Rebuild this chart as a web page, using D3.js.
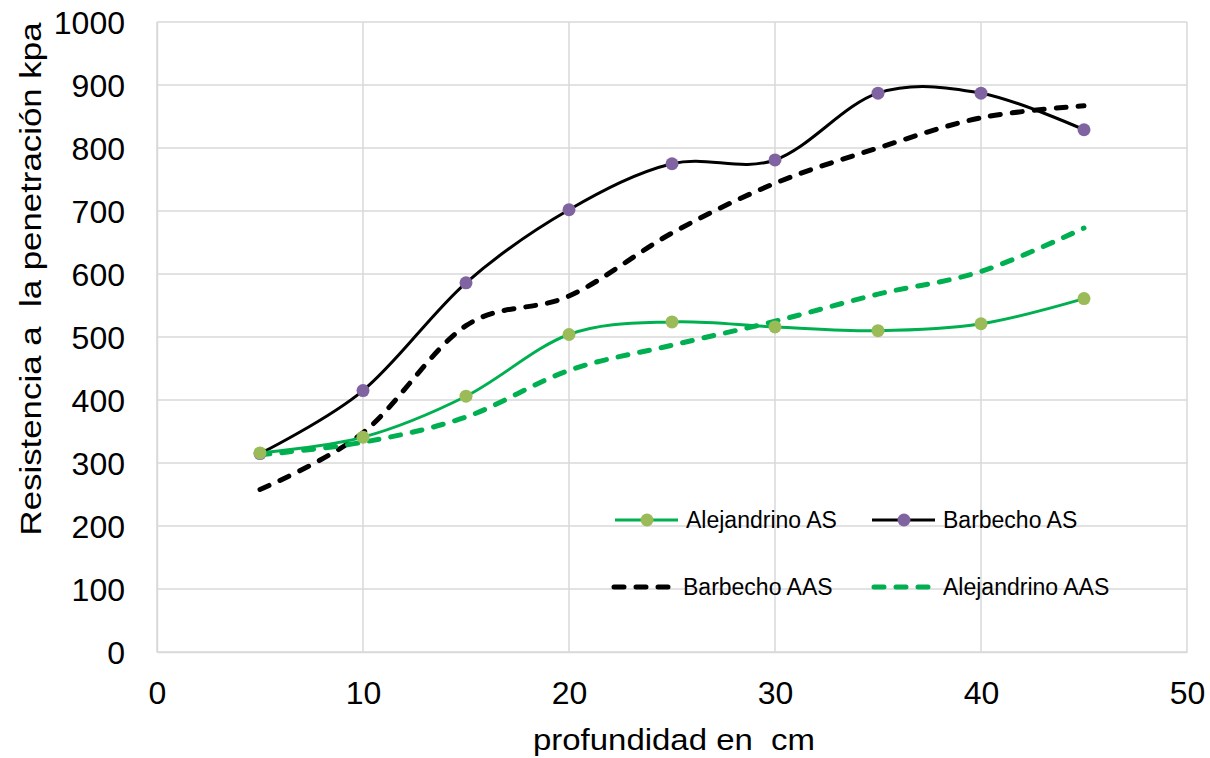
<!DOCTYPE html>
<html><head><meta charset="utf-8">
<script src="https://cdn.jsdelivr.net/npm/d3@7"></script>
<style>body{margin:0;background:#fff}svg{display:block}text{white-space:pre}</style>
</head><body><svg id="c" width="1210" height="758"></svg>
<script>
const depths = [5,10,15,20,25,30,35,40,45];
const alejandrinoAS = [316,341,406,504,524,516,510,521,561];
const barbechoAS = [315,415,586,702,775,781,887,887,829];
const barbechoAAS = [258,348,518,565,665,744,800,848,867];
const alejandrinoAAS = [313,333,373,447,487,525,568,604,673];
const xTicks = [0,10,20,30,40,50];
const yTicks = [0,100,200,300,400,500,600,700,800,900,1000];

const svg = d3.select("#c");
const x = d3.scaleLinear().domain([0,50]).range([157,1187]);
const y = d3.scaleLinear().domain([0,1000]).range([652,22]);
const font = "'Liberation Sans', Arial, sans-serif";

// gridlines
svg.append("g").selectAll("line").data(yTicks).join("line")
  .attr("x1",x(0)).attr("x2",x(50)).attr("y1",d=>y(d)).attr("y2",d=>y(d))
  .attr("stroke","#d9d9d9").attr("stroke-width",1.5);
svg.append("g").selectAll("line").data(xTicks).join("line")
  .attr("y1",y(0)).attr("y2",y(1000)).attr("x1",d=>x(d)).attr("x2",d=>x(d))
  .attr("stroke","#d9d9d9").attr("stroke-width",1.5);

// axes tick labels
const yAxis = d3.axisLeft(y).tickValues(yTicks).tickFormat(d3.format("d")).tickSize(0).tickPadding(32);
const gy = svg.append("g").attr("transform",`translate(${x(0)},0)`).call(yAxis);
gy.select(".domain").attr("stroke","#d9d9d9").attr("stroke-width",1.5);
gy.selectAll("text").attr("font-family",font).attr("font-size",32).attr("fill","#000").attr("dy","0.35em");
const xAxis = d3.axisBottom(x).tickValues(xTicks).tickFormat(d3.format("d")).tickSize(0).tickPadding(29);
const gx = svg.append("g").attr("transform",`translate(0,${y(0)})`).call(xAxis);
gx.select(".domain").attr("stroke","#d9d9d9").attr("stroke-width",1.5);
gx.selectAll("text").attr("font-family",font).attr("font-size",32).attr("fill","#000");

// titles
svg.append("text").attr("x",674).attr("y",750).attr("text-anchor","middle")
  .attr("font-family",font).attr("font-size",29)
  .attr("textLength",282).attr("lengthAdjust","spacingAndGlyphs")
  .text("profundidad en  cm");
svg.append("text").attr("transform","translate(41,279) rotate(-90)").attr("text-anchor","middle")
  .attr("font-family",font).attr("font-size",29)
  .attr("textLength",513).attr("lengthAdjust","spacingAndGlyphs")
  .text("Resistencia a  la penetración kpa");

const curve = d3.curveCatmullRom.alpha(0);
const line = d3.line().x((d,i)=>x(depths[i])).y(d=>y(d)).curve(curve);

const series = [
  {name:"Barbecho AAS", data:barbechoAAS, color:"#000", width:5, dash:"10,12", marker:null},
  {name:"Alejandrino AAS", data:alejandrinoAAS, color:"#00b050", width:5, dash:"10,12", marker:null},
  {name:"Barbecho AS", data:barbechoAS, color:"#000", width:3, dash:null, marker:"#8064a2"},
  {name:"Alejandrino AS", data:alejandrinoAS, color:"#00b050", width:3, dash:null, marker:"#9bbb59"},
];
series.forEach(s=>{
  svg.append("path").attr("d",line(s.data)).attr("fill","none")
    .attr("stroke",s.color).attr("stroke-width",s.width)
    .attr("stroke-dasharray",s.dash).attr("stroke-linecap",s.dash?"round":"butt");
});
series.filter(s=>s.marker).forEach(s=>{
  svg.append("g").selectAll("circle").data(s.data).join("circle")
    .attr("cx",(d,i)=>x(depths[i])).attr("cy",d=>y(d)).attr("r",6.5).attr("fill",s.marker);
});

// legend
const legend = [
  {s:series[3], lx:615, ly:520},
  {s:series[2], lx:872, ly:520},
  {s:series[0], lx:612, ly:587},
  {s:series[1], lx:872, ly:587},
];
legend.forEach(({s,lx,ly})=>{
  const g = svg.append("g");
  if(s.dash){
    g.append("line").attr("x1",lx+2).attr("x2",lx+60).attr("y1",ly).attr("y2",ly)
      .attr("stroke",s.color).attr("stroke-width",s.width).attr("stroke-dasharray",s.dash).attr("stroke-linecap","round");
  } else {
    g.append("line").attr("x1",lx).attr("x2",lx+63).attr("y1",ly).attr("y2",ly)
      .attr("stroke",s.color).attr("stroke-width",s.width);
    g.append("circle").attr("cx",lx+32).attr("cy",ly).attr("r",6.5).attr("fill",s.marker);
  }
  g.append("text").attr("x",lx+71).attr("y",ly).attr("dy","0.35em")
    .attr("font-family",font).attr("font-size",23).text(s.name);
});
</script></body></html>
